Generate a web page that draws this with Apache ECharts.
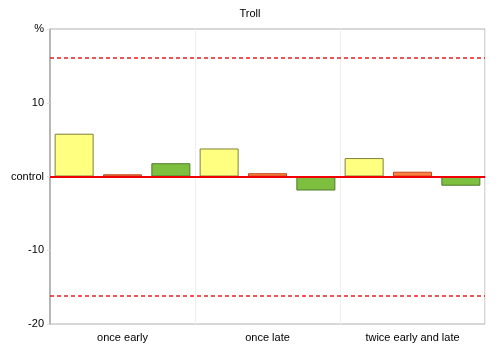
<!DOCTYPE html>
<html>
<head>
<meta charset="utf-8">
<script src="https://cdn.jsdelivr.net/npm/echarts@6/dist/echarts.min.js"></script>
<style>
  html, body { margin: 0; padding: 0; background: #fff; }
  #chart { width: 500px; height: 346px; }
</style>
</head>
<body>
<div id="chart"></div>
<script>
// Treatment timings on the category axis
const categories = ['once early', 'once late', 'twice early and late'];

// Change relative to control (%) for the three bar groups
const yellowValues = [5.8, 3.8, 2.5];
const orangeValues = [0.3, 0.45, 0.65];
const greenValues = [1.8, -1.9, -1.25];

// Significance thresholds (%) drawn as dashed lines
const thresholdUpper = 16.1;
const thresholdLower = -16.2;

// Y tick labels: top shows the unit, zero is the control level
const yTickText = { '20': '%', '10': '10', '0': 'control', '-10': '-10', '-20': '-20' };

const chart = echarts.init(document.getElementById('chart'));

const font = 'Liberation Sans, Arial, sans-serif';

function barSeries(name, values, fill, border) {
  return {
    name: name,
    type: 'bar',
    data: values,
    barWidth: 39,
    barGap: '24%',
    itemStyle: { color: fill, borderColor: border, borderWidth: 1 },
    emphasis: { disabled: true }
  };
}

const greenSeries = barSeries('late', greenValues, '#7fbf3f', '#4f7a2c');
greenSeries.markLine = {
  silent: true,
  symbol: 'none',
  label: { show: false },
  z: 10,
  data: [
    { yAxis: 0, lineStyle: { color: '#f00000', width: 2, type: 'solid' } },
    { yAxis: thresholdUpper, lineStyle: { color: '#e02020', width: 1.5, type: [4, 3] } },
    { yAxis: thresholdLower, lineStyle: { color: '#e02020', width: 1.5, type: [4, 3] } }
  ]
};

chart.setOption({
  animation: false,
  title: {
    text: 'Troll',
    left: 'center',
    top: 3,
    textStyle: { fontFamily: font, fontSize: 11, fontWeight: 'normal', color: '#000' }
  },
  grid: { left: 50, right: 15, top: 29, bottom: 22, show: true, borderColor: '#b0b0b0', borderWidth: 1 },
  xAxis: {
    type: 'category',
    data: categories,
    axisLine: { show: true, lineStyle: { color: '#999', width: 1.5 } },
    axisTick: { show: false },
    axisLabel: { fontFamily: font, fontSize: 11, color: '#000', margin: 8 },
    splitLine: { show: true, lineStyle: { color: '#efefef', width: 1 } }
  },
  yAxis: {
    type: 'value',
    min: -20,
    max: 20,
    interval: 10,
    axisLine: { show: true, lineStyle: { color: '#a8a8a8', width: 1.5 } },
    axisTick: { show: true, inside: false, length: 3, lineStyle: { color: '#ddd' } },
    axisLabel: {
      fontFamily: font, fontSize: 11, color: '#000', margin: 6,
      formatter: v => yTickText[String(v)] ?? String(v)
    },
    splitLine: { show: false }
  },
  series: [
    barSeries('early', yellowValues, '#ffff80', '#80803a'),
    barSeries('mid', orangeValues, '#ff8040', '#c04a20'),
    greenSeries
  ]
});
</script>
</body>
</html>
